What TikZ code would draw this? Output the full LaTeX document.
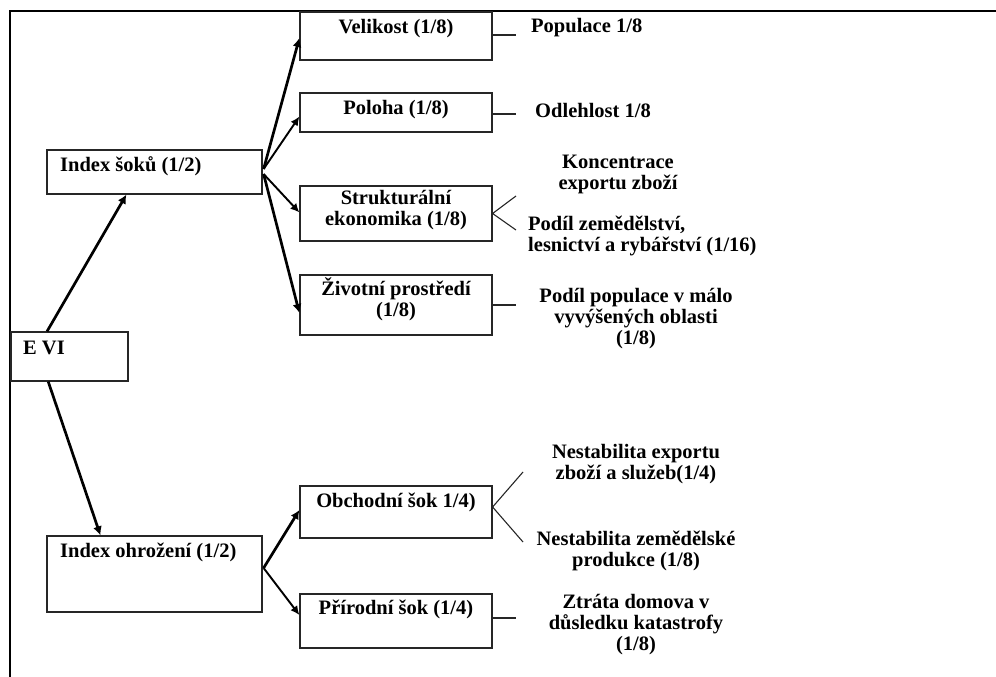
\documentclass[tikz,border=0pt]{standalone}
\usepackage{fontspec}
\setmainfont{Liberation Serif}
\usetikzlibrary{arrows.meta,calc}
\begin{document}
\begin{tikzpicture}[x=1pt,y=-1pt,
  box/.style={draw=black!85,line width=1.2pt,minimum width=192pt,inner sep=0pt},
  lbox/.style={draw=black!85,line width=1.2pt,minimum width=215pt,inner sep=0pt},
  txt/.style={font=\fontsize{20.5}{21}\selectfont\bfseries,inner sep=0pt,align=center},
  ltxt/.style={txt,anchor=west,align=left},
  thickarr/.style={line width=2.7pt,-{Latex[length=9pt,width=9pt]}},
  thinarr/.style={line width=1.9pt,-{Latex[length=9pt,width=8.5pt]}},
  leaf/.style={line width=1.1pt,black!85}]
\useasboundingbox (0,0) rectangle (996,677);
% frame
\draw[line width=2pt] (10,677) -- (10,11) -- (996,11);
% boxes
\node[box,minimum height=48pt] (vel) at (396,36) {};
\node[box,minimum height=39pt] (pol) at (396,112.5) {};
\node[box,minimum height=55pt] (str) at (396,213.5) {};
\node[box,minimum height=60pt] (ziv) at (396,305) {};
\node[box,minimum height=52pt] (obch) at (396,512) {};
\node[box,minimum height=54pt] (prir) at (396,621) {};
\node[lbox,minimum height=44pt] (isoku) at (154.5,172) {};
\node[lbox,minimum height=76pt] (iohr) at (154.5,574) {};
\node[draw=black!85,line width=1.2pt,inner sep=0pt,minimum width=117pt,minimum height=49pt] (evi) at (69.5,356.5) {};
% box texts
\node[txt] (tvel) at (396,29) {Velikost (1/8)};
\node[txt] (tpol) at (396,110) {Poloha (1/8)};
\node[txt] (tstr) at (396,210.5) {Strukturální\\ekonomika (1/8)};
\node[txt] (tziv) at (396,299.5) {Životní prostředí\\(1/8)};
\node[txt] (tobch) at (396,502) {Obchodní šok 1/4)};
\node[txt] (tprir) at (396,609) {Přírodní šok (1/4)};
\node[ltxt] (tisoku) at (60,166) {Index šoků (1/2)};
\node[ltxt] (tiohr) at (60,552) {Index ohrožení (1/2)};
\node[ltxt] (tevi) at (23,348) {E VI};
% leaf texts
\node[ltxt] (pop) at (531,28) {Populace 1/8};
\node[ltxt] (odl) at (535,110) {Odlehlost 1/8};
\node[txt] (kon) at (618,174) {Koncentrace\\exportu zboží};
\node[ltxt] (zem) at (528,235.5) {Podíl zemědělství,\\lesnictví a rybářství (1/16)};
\node[txt] (mal) at (636,318.5) {Podíl populace v málo\\vyvýšených oblasti\\(1/8)};
\node[txt] (nex) at (636,464) {Nestabilita exportu\\zboží a služeb(1/4)};
\node[txt] (nze) at (636,551) {Nestabilita zemědělské\\produkce (1/8)};
\node[txt] (ztr) at (636,625) {Ztráta domova v\\důsledku katastrofy\\(1/8)};
% arrows
\draw[thickarr] ($(evi.north west)!0.31!(evi.north east)$) -- ($(isoku.south west)!0.37!(isoku.south east)$);
\draw[thickarr] ($(evi.south west)!0.32!(evi.south east)$) -- ($(iohr.north west)!0.25!(iohr.north east)$);
\draw[thickarr] ($(isoku.east)+(1,-3)$) -- ($(vel.west)+(0,2)$);
\draw[thinarr] ($(isoku.east)+(1,-3)$) -- ($(pol.west)+(0,4)$);
\draw[thinarr] ($(isoku.east)+(1,2)$) -- ($(str.west)+(0,-1)$);
\draw[thickarr] ($(isoku.east)+(1,2)$) -- ($(ziv.west)+(0,8)$);
\draw[thickarr] ($(iohr.east)+(1,-6)$) -- ($(obch.west)+(0,-2)$);
\draw[thinarr] ($(iohr.east)+(1,-6)$) -- ($(prir.west)+(0,-6)$);
% leaf connectors
\coordinate (cpop) at (516,35);
\coordinate (codl) at (516,114);
\coordinate (ckon) at (516,196);
\coordinate (czem) at (516,230);
\coordinate (cmal) at (516,305);
\coordinate (cnex) at (523,472);
\coordinate (cnze) at (523,542);
\coordinate (cztr) at (516,618);
\draw[leaf] ($(vel.east)+(0,-1)$) -- (cpop);
\draw[leaf] ($(pol.east)+(0,1.5)$) -- (codl);
\draw[leaf] (ckon) -- (str.east) -- (czem);
\draw[leaf] (ziv.east) -- (cmal);
\draw[leaf] (cnex) -- ($(obch.east)+(0,-5)$) -- (cnze);
\draw[leaf] ($(prir.east)+(0,-3)$) -- (cztr);
\end{tikzpicture}
\end{document}
